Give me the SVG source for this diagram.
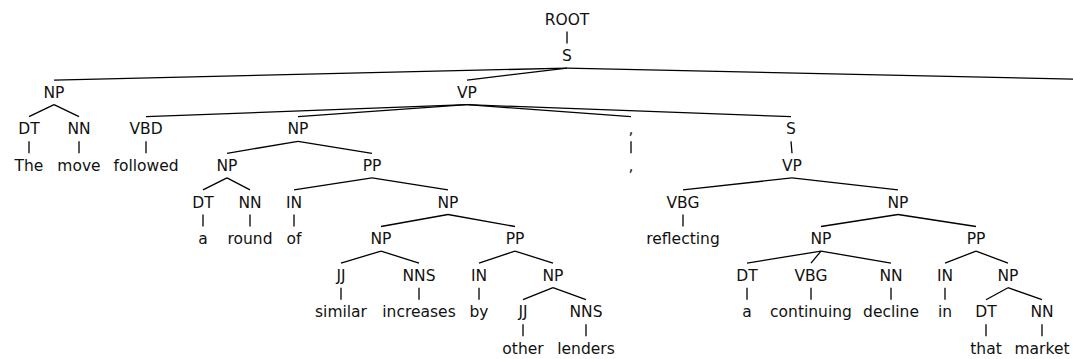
<svg xmlns="http://www.w3.org/2000/svg" width="1073" height="359" viewBox="0 0 1073 359">
  <style>
    .lbl { font-family: "DejaVu Sans", "Liberation Sans", sans-serif; font-size: 15.5px; fill: #111; text-anchor: middle; }
    .edge { stroke: #000; stroke-width: 1.3; fill: none; }
  </style>
  <rect width="1073" height="359" fill="#fff"/>

  <!-- connectors: parent at level k runs from y=b+7 to child top at y=b+19 -->
  <g id="connectors" class="edge">
    <!-- ROOT -> S -->
    <line x1="567" y1="31.5" x2="567" y2="43.6"/>
    <!-- S -> NP, VP, (period beyond the right edge) -->
    <line x1="567" y1="68.1" x2="54" y2="80.1"/>
    <line x1="567" y1="68.1" x2="467" y2="80.1"/>
    <line x1="567" y1="68.1" x2="1122" y2="80.1"/>
    <!-- NP -> DT NN -->
    <line x1="54" y1="104.7" x2="29" y2="116.7"/>
    <line x1="54" y1="104.7" x2="79" y2="116.7"/>
    <!-- VP -> VBD NP , S -->
    <line x1="467" y1="104.7" x2="146" y2="116.7"/>
    <line x1="467" y1="104.7" x2="298" y2="116.7"/>
    <line x1="467" y1="104.7" x2="631" y2="116.7"/>
    <line x1="467" y1="104.7" x2="791" y2="116.7"/>
    <!-- level 3 -> 4 -->
    <line x1="29" y1="141.3" x2="29" y2="153.3"/>
    <line x1="79" y1="141.3" x2="79" y2="153.3"/>
    <line x1="146" y1="141.3" x2="146" y2="153.3"/>
    <line x1="298" y1="141.3" x2="227" y2="153.3"/>
    <line x1="298" y1="141.3" x2="372" y2="153.3"/>
    <line x1="631" y1="141.3" x2="631" y2="153.3"/>
    <line x1="791" y1="141.3" x2="792" y2="153.3"/>
    <!-- level 4 -> 5 -->
    <line x1="227" y1="177.9" x2="203" y2="189.9"/>
    <line x1="227" y1="177.9" x2="250" y2="189.9"/>
    <line x1="372" y1="177.9" x2="294" y2="189.9"/>
    <line x1="372" y1="177.9" x2="448" y2="189.9"/>
    <line x1="792" y1="177.9" x2="683" y2="189.9"/>
    <line x1="792" y1="177.9" x2="898" y2="189.9"/>
    <!-- level 5 -> 6 -->
    <line x1="203" y1="214.5" x2="203" y2="226.5"/>
    <line x1="250" y1="214.5" x2="250" y2="226.5"/>
    <line x1="294" y1="214.5" x2="294" y2="226.5"/>
    <line x1="448" y1="214.5" x2="381" y2="226.5"/>
    <line x1="448" y1="214.5" x2="515" y2="226.5"/>
    <line x1="683" y1="214.5" x2="683" y2="226.5"/>
    <line x1="898" y1="214.5" x2="821" y2="226.5"/>
    <line x1="898" y1="214.5" x2="976" y2="226.5"/>
    <!-- level 6 -> 7 -->
    <line x1="381" y1="251.1" x2="341" y2="263.1"/>
    <line x1="381" y1="251.1" x2="419" y2="263.1"/>
    <line x1="515" y1="251.1" x2="479" y2="263.1"/>
    <line x1="515" y1="251.1" x2="553" y2="263.1"/>
    <line x1="821" y1="251.1" x2="747" y2="263.1"/>
    <line x1="821" y1="251.1" x2="811" y2="263.1"/>
    <line x1="821" y1="251.1" x2="891" y2="263.1"/>
    <line x1="976" y1="251.1" x2="945" y2="263.1"/>
    <line x1="976" y1="251.1" x2="1008" y2="263.1"/>
    <!-- level 7 -> 8 -->
    <line x1="341" y1="287.7" x2="341" y2="299.7"/>
    <line x1="419" y1="287.7" x2="419" y2="299.7"/>
    <line x1="479" y1="287.7" x2="479" y2="299.7"/>
    <line x1="553" y1="287.7" x2="523" y2="299.7"/>
    <line x1="553" y1="287.7" x2="586" y2="299.7"/>
    <line x1="747" y1="287.7" x2="747" y2="299.7"/>
    <line x1="811" y1="287.7" x2="811" y2="299.7"/>
    <line x1="891" y1="287.7" x2="891" y2="299.7"/>
    <line x1="945" y1="287.7" x2="945" y2="299.7"/>
    <line x1="1008" y1="287.7" x2="986" y2="299.7"/>
    <line x1="1008" y1="287.7" x2="1042" y2="299.7"/>
    <!-- level 8 -> 9 -->
    <line x1="523" y1="324.3" x2="523" y2="336.3"/>
    <line x1="586" y1="324.3" x2="586" y2="336.3"/>
    <line x1="986" y1="324.3" x2="986" y2="336.3"/>
    <line x1="1042" y1="324.3" x2="1042" y2="336.3"/>
  </g>

  <!-- level 0-2 -->
  <g id="n-root"><text class="lbl" x="567" y="24.5">ROOT</text></g>
  <g id="n-s"><text class="lbl" x="567" y="61.1">S</text></g>
  <g id="n-np-subj"><text class="lbl" x="54" y="97.7">NP</text></g>
  <g id="n-vp-main"><text class="lbl" x="467" y="97.7">VP</text></g>

  <!-- subject -->
  <g id="n-dt-the"><text class="lbl" x="29" y="134.3">DT</text></g>
  <g id="w-the"><text class="lbl" x="29" y="170.9">The</text></g>
  <g id="n-nn-move"><text class="lbl" x="79" y="134.3">NN</text></g>
  <g id="w-move"><text class="lbl" x="79" y="170.9">move</text></g>

  <!-- verb -->
  <g id="n-vbd"><text class="lbl" x="146" y="134.3">VBD</text></g>
  <g id="w-followed"><text class="lbl" x="146" y="170.9">followed</text></g>

  <!-- object NP -->
  <g id="n-np-obj"><text class="lbl" x="298" y="134.3">NP</text></g>
  <g id="n-np-round"><text class="lbl" x="227" y="170.9">NP</text></g>
  <g id="n-dt-a1"><text class="lbl" x="203" y="207.5">DT</text></g>
  <g id="w-a1"><text class="lbl" x="203" y="244.1">a</text></g>
  <g id="n-nn-round"><text class="lbl" x="250" y="207.5">NN</text></g>
  <g id="w-round"><text class="lbl" x="250" y="244.1">round</text></g>
  <g id="n-pp-of"><text class="lbl" x="372" y="170.9">PP</text></g>
  <g id="n-in-of"><text class="lbl" x="294" y="207.5">IN</text></g>
  <g id="w-of"><text class="lbl" x="294" y="244.1">of</text></g>
  <g id="n-np-incr"><text class="lbl" x="448" y="207.5">NP</text></g>
  <g id="n-np-similar"><text class="lbl" x="381" y="244.1">NP</text></g>
  <g id="n-jj-similar"><text class="lbl" x="341" y="280.7">JJ</text></g>
  <g id="w-similar"><text class="lbl" x="341" y="317.3">similar</text></g>
  <g id="n-nns-incr"><text class="lbl" x="419" y="280.7">NNS</text></g>
  <g id="w-increases"><text class="lbl" x="419" y="317.3">increases</text></g>
  <g id="n-pp-by"><text class="lbl" x="515" y="244.1">PP</text></g>
  <g id="n-in-by"><text class="lbl" x="479" y="280.7">IN</text></g>
  <g id="w-by"><text class="lbl" x="479" y="317.3">by</text></g>
  <g id="n-np-lenders"><text class="lbl" x="553" y="280.7">NP</text></g>
  <g id="n-jj-other"><text class="lbl" x="523" y="317.3">JJ</text></g>
  <g id="w-other"><text class="lbl" x="523" y="353.9">other</text></g>
  <g id="n-nns-lenders"><text class="lbl" x="586" y="317.3">NNS</text></g>
  <g id="w-lenders"><text class="lbl" x="586" y="353.9">lenders</text></g>

  <!-- comma -->
  <g id="n-comma"><text class="lbl" x="631" y="134.3">,</text></g>
  <g id="w-comma"><text class="lbl" x="631" y="170.9">,</text></g>

  <!-- participial clause -->
  <g id="n-s-sub"><text class="lbl" x="791" y="134.3">S</text></g>
  <g id="n-vp-sub"><text class="lbl" x="792" y="170.9">VP</text></g>
  <g id="n-vbg-refl"><text class="lbl" x="683" y="207.5">VBG</text></g>
  <g id="w-reflecting"><text class="lbl" x="683" y="244.1">reflecting</text></g>
  <g id="n-np-decl"><text class="lbl" x="898" y="207.5">NP</text></g>
  <g id="n-np-cont"><text class="lbl" x="821" y="244.1">NP</text></g>
  <g id="n-dt-a2"><text class="lbl" x="747" y="280.7">DT</text></g>
  <g id="w-a2"><text class="lbl" x="747" y="317.3">a</text></g>
  <g id="n-vbg-cont"><text class="lbl" x="811" y="280.7">VBG</text></g>
  <g id="w-continuing"><text class="lbl" x="811" y="317.3">continuing</text></g>
  <g id="n-nn-decline"><text class="lbl" x="891" y="280.7">NN</text></g>
  <g id="w-decline"><text class="lbl" x="891" y="317.3">decline</text></g>
  <g id="n-pp-in"><text class="lbl" x="976" y="244.1">PP</text></g>
  <g id="n-in-in"><text class="lbl" x="945" y="280.7">IN</text></g>
  <g id="w-in"><text class="lbl" x="945" y="317.3">in</text></g>
  <g id="n-np-market"><text class="lbl" x="1008" y="280.7">NP</text></g>
  <g id="n-dt-that"><text class="lbl" x="986" y="317.3">DT</text></g>
  <g id="w-that"><text class="lbl" x="986" y="353.9">that</text></g>
  <g id="n-nn-market"><text class="lbl" x="1042" y="317.3">NN</text></g>
  <g id="w-market"><text class="lbl" x="1042" y="353.9">market</text></g>
</svg>
